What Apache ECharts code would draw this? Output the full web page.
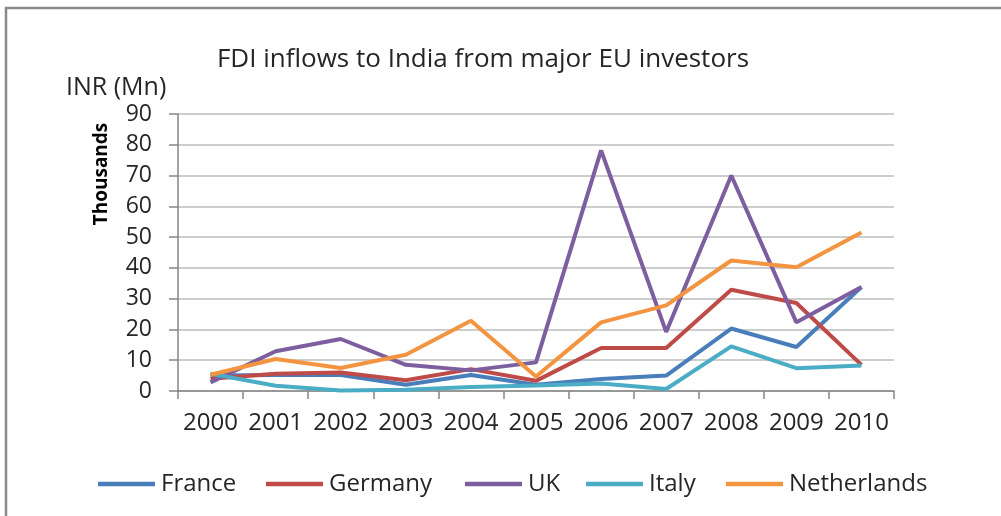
<!DOCTYPE html>
<html><head><meta charset="utf-8">
<script src="https://cdn.jsdelivr.net/npm/echarts@6/dist/echarts.min.js"></script>
<style>html,body{margin:0;padding:0;background:#fff}#c{width:1001px;height:516px}</style>
</head><body><div id="c"></div>
<script>
const years = ['2000','2001','2002','2003','2004','2005','2006','2007','2008','2009','2010'];
const france = [5.0, 5.2, 5.2, 2.0, 5.2, 2.0, 3.9, 5.0, 20.3, 14.3, 33.8];
const germany = [4.0, 5.6, 6.0, 3.5, 7.1, 3.3, 14.0, 14.0, 32.9, 28.6, 8.5];
const uk = [2.8, 12.9, 16.9, 8.5, 6.7, 9.3, 78.2, 19.2, 70.0, 22.3, 33.8];
const italy = [5.6, 1.7, 0.2, 0.4, 1.3, 1.8, 2.4, 0.65, 14.5, 7.4, 8.3];
const netherlands = [5.3, 10.4, 7.5, 11.8, 22.8, 4.7, 22.3, 27.8, 42.4, 40.2, 51.5];
const seriesNames = ['France','Germany','UK','Italy','Netherlands'];
const seriesData = [france, germany, uk, italy, netherlands];
const colors = ['#4a7ebb','#be4b48','#7d5fa0','#4bacc6','#f39441'];
const titleText = 'FDI inflows to India from major EU investors';
const unitText = 'INR (Mn)';
const axisName = 'Thousands';

const FONT = '"Open Sans", sans-serif';
const legendLeft = [98, 266, 465, 586, 726];
const chart = echarts.init(document.getElementById('c'), null, {renderer:'canvas'});
chart.setOption({
  animation: false,
  color: colors,
  textStyle: {fontFamily: FONT, color: '#262626'},
  grid: {left: 178, right: 107, top: 114, bottom: 125},
  legend: seriesNames.map((n, i) => ({
    data: [n], left: legendLeft[i], top: 472, icon: 'rect', itemWidth: 57, itemHeight: 4.5,
    padding: 0, textStyle: {fontFamily: FONT, fontSize: 24, color: '#262626', padding: [0,0,0,1]}
  })),
  graphic: [
    {type:'polyline', shape:{points:[[6,516],[6,8],[1001,8]]}, style:{stroke:'#8a8a8a', lineWidth:2.5, fill:null}, silent:true},
    {type:'text', x:483, y:60, style:{text:titleText, font:'26px '+FONT, fill:'#262626', textAlign:'center', textVerticalAlign:'middle'}},
    {type:'text', x:66, y:88, style:{text:unitText, font:'25px '+FONT, fill:'#262626', textAlign:'left', textVerticalAlign:'middle'}},
    {type:'text', x:102, y:174, rotation:Math.PI/2, style:{text:axisName, font:'bold 19px '+FONT, fill:'#000', textAlign:'center', textVerticalAlign:'middle'}}
  ],
  xAxis: {
    type: 'category', data: years, boundaryGap: true,
    axisLine: {lineStyle: {color: '#868686', width: 1.5}},
    axisTick: {show: true, length: 8, interval: 0, lineStyle: {color: '#868686', width: 1.5}},
    axisLabel: {fontSize: 24, color: '#262626', margin: 20, interval: 0, fontFamily: FONT}
  },
  yAxis: {
    type: 'value', min: 0, max: 90, interval: 10,
    axisLine: {show: true, lineStyle: {color: '#868686', width: 1.5}},
    axisTick: {show: true, length: 9, lineStyle: {color: '#868686', width: 1.5}},
    axisLabel: {fontSize: 23, color: '#262626', margin: 26, fontFamily: FONT},
    splitLine: {lineStyle: {color: '#bcbcbc', width: 1.5}}
  },
  series: seriesNames.map((n, i) => ({
    name: n, type: 'line', data: seriesData[i], showSymbol: false, symbol: 'none',
    lineStyle: {width: 4, color: colors[i]}, itemStyle: {color: colors[i]}
  }))
});
</script></body></html>
